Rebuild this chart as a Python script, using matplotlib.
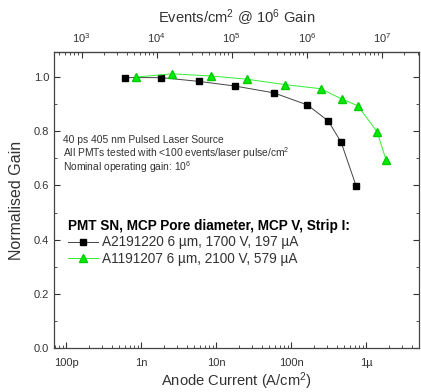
import numpy as np
import matplotlib
matplotlib.use("Agg")
import matplotlib.pyplot as plt
from matplotlib.ticker import FixedLocator, LogLocator, NullFormatter, FuncFormatter, MultipleLocator

plt.rcParams['font.family'] = ['Liberation Sans', 'DejaVu Sans']
plt.rcParams['mathtext.default'] = 'regular'

# ---- data ----
cur_a = [6.0e-10, 1.82e-9, 5.9e-9, 1.76e-8, 5.8e-8, 1.64e-7, 3.1e-7, 4.6e-7, 7.3e-7]
gain_a = [0.998, 0.998, 0.984, 0.967, 0.942, 0.897, 0.838, 0.760, 0.598]

cur_b = [8.5e-10, 2.6e-9, 8.5e-9, 2.56e-8, 8.3e-8, 2.47e-7, 4.7e-7, 7.7e-7, 1.39e-6, 1.83e-6]
gain_b = [1.0, 1.012, 1.004, 0.992, 0.972, 0.957, 0.919, 0.894, 0.798, 0.694]

label_a = "A2191220 6 \u00b5m, 1700 V, 197 \u00b5A"
label_b = "A1191207 6 \u00b5m, 2100 V, 579 \u00b5A"

bottom_ticks = [1e-10, 1e-9, 1e-8, 1e-7, 1e-6]
bottom_labels = ["100p", "1n", "10n", "100n", "1\u00b5"]

note_lines = ["40 ps 405 nm Pulsed Laser Source",
              "All PMTs tested with <100 events/laser pulse/cm$^2$",
              "Nominal operating gain: 10$^6$"]

# events/cm^2 at 1e6 gain = current / (1e6 * e)
k = 1.0 / (1e6 * 1.602e-19)

txt = "#333333"

fig = plt.figure(figsize=(4.21, 3.92), dpi=100)
ax = fig.add_axes([0.128, 0.112, 0.867, 0.755])

ax.plot(cur_a, gain_a, '-', color='#444444', lw=0.7, marker='s', ms=4.5,
        mfc='black', mec='black', label=label_a)
ax.plot(cur_b, gain_b, '-', color='#33ee33', lw=0.7, marker='^', ms=5.5,
        mfc='#00ee00', mec='#00cc00', label=label_b)

ax.set_xscale('log')
ax.set_xlim(10**-10.166, 10**-5.3)
ax.set_ylim(0, 1.092)

ax.xaxis.set_major_locator(FixedLocator(bottom_ticks))
ax.xaxis.set_major_formatter(FuncFormatter(lambda v, p: bottom_labels[bottom_ticks.index(v)] if v in bottom_ticks else ""))
ax.xaxis.set_minor_locator(LogLocator(base=10, subs=np.arange(2, 10)))
ax.xaxis.set_minor_formatter(NullFormatter())
ax.yaxis.set_major_locator(MultipleLocator(0.2))
ax.yaxis.set_minor_locator(MultipleLocator(0.1))
ax.yaxis.set_major_formatter(FuncFormatter(lambda v, p: f"{v:.1f}"))

ax.tick_params(which='both', direction='in', right=True, colors='#333333',
               labelsize=8, labelcolor=txt)
ax.tick_params(which='major', length=4, width=0.8)
ax.tick_params(which='minor', length=2, width=0.6)
ax.tick_params(axis='x', which='both', top=False, pad=7)
for s in ax.spines.values():
    s.set_color('#444444')
    s.set_linewidth(0.9)

ax.set_xlabel("Anode Current (A/cm$^2$)", fontsize=10.6, color=txt, labelpad=2)
ax.set_ylabel("Normalised Gain", fontsize=11.5, color=txt, labelpad=7)

top = ax.secondary_xaxis('top', functions=(lambda x: x * k, lambda x: x / k))
top.set_xscale('log')
top.xaxis.set_major_locator(FixedLocator([1e3, 1e4, 1e5, 1e6, 1e7]))
top.xaxis.set_major_formatter(FuncFormatter(lambda v, p: f"$10^{{{int(round(np.log10(v)))}}}$"))
top.xaxis.set_minor_locator(LogLocator(base=10, subs=np.arange(2, 10)))
top.xaxis.set_minor_formatter(NullFormatter())
top.tick_params(which='both', direction='in', colors='#333333', labelsize=8, labelcolor=txt, pad=5)
top.tick_params(which='major', length=4, width=0.8)
top.tick_params(which='minor', length=2, width=0.6)
top.set_xlabel("Events/cm$^2$ @ 10$^6$ Gain", fontsize=10.6, color=txt, labelpad=6)

for yy, line in zip([0.703, 0.659, 0.610], note_lines):
    ax.text(0.025, yy, line, transform=ax.transAxes, fontsize=7.4,
            color=txt, va='center')

leg = ax.legend(loc='upper left', bbox_to_anchor=(0.038, 0.437), frameon=False,
                title="PMT SN, MCP Pore diameter, MCP V, Strip I:",
                fontsize=9.8, title_fontsize=9.8, handlelength=2.2,
                handletextpad=0.3, borderaxespad=0, borderpad=0,
                labelspacing=0.2)
leg.get_title().set_fontweight('bold')
leg._legend_box.align = 'left'
for t in leg.get_texts():
    t.set_color(txt)

fig.savefig("out.png", dpi=100)
